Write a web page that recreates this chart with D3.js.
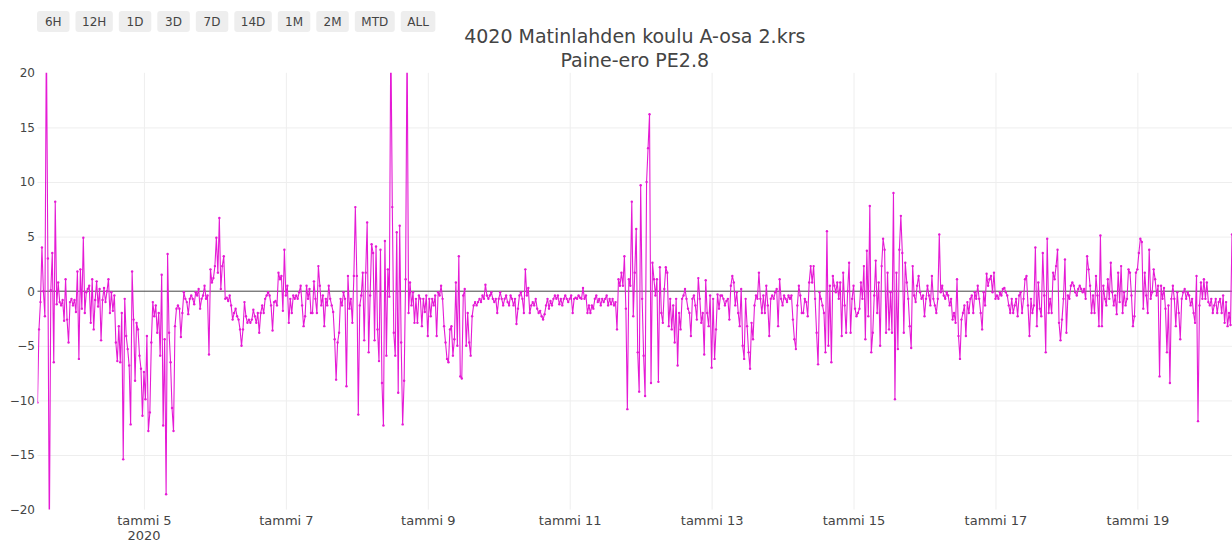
<!DOCTYPE html>
<html>
<head>
<meta charset="utf-8">
<script src="https://cdn.jsdelivr.net/npm/d3@7"></script>
<style>
  html, body { margin: 0; padding: 0; background: #fff; }
  svg { display: block; font-family: "DejaVu Sans", Verdana, sans-serif; }
</style>
</head>
<body>
<svg id="chart" width="1232" height="543"></svg>
<script>
// Pressure difference readings, 30-minute interval, starting 3.1.2020 12:00
const seriesStart = new Date(2020, 0, 3, 12, 0);
const stepMinutes = 30;

const pressureDiff = [
  // 3.1. 12:00–23:30
  -10.2, -3.5, -1.0, 4.0, 0.0, -2.3, 24, 3.0, -23, 0.1, 3.5, -6.5, 8.2, -1.2, 0.8, -1.0, -1.3, -0.8, -2.7, 1.1, -2.6, -4.7, -1.0, -0.7,
  // 4.1.
  -1.3, -0.8, -1.9, 1.8, -6.2, 2.0, -1.6, 4.9, -2.0, -0.1, 0.2, 0.5, -2.9, 1.1, -3.5, -0.8, 0.9, -1.4, 0.2, -4.5, -0.8, 0.3, -1.0, 0.0,
  1.1, -2.0, -0.1, -1.8, -0.4, -4.7, -6.4, -3.2, -6.5, -2.0, -15.4, -0.7, -4.1, -5.3, -6.8, -12.2, 1.8, -2.6, -8.2, -2.9, -3.5, -5.9, -7.1, -11.4,
  // 5.1.
  -7.4, -9.9, -4.1, -12.8, -11.1, -4.7, -1.0, -2.3, -1.3, -3.8, -2.0, -5.9, 1.5, -12.3, -4.4, -18.6, 3.4, -3.8, -6.5, -10.7, -12.8, -3.2, -1.6, -1.3,
  -1.6, -4.2, -2.0, -0.1, -0.7, -1.0, -2.1, -0.7, -0.4, -0.7, -1.2, -0.1, -0.4, 0.2, -1.6, -0.7, -0.4, 0.5, -0.7, -0.4, -5.8, 2.0, 0.8, 1.2,
  // 6.1.
  2.3, 4.9, 1.7, 6.7, 0.2, 2.3, 3.2, -0.7, -0.6, -0.9, -0.4, -1.3, -2.6, -2.0, -1.6, -2.3, -2.6, -3.5, -5.0, -3.5, -1.0, -2.3, -2.9, -2.6,
  -2.9, -2.6, -1.7, -2.3, -2.9, -2.0, -3.8, -2.0, -1.3, -2.0, -0.7, -0.4, -0.1, -0.4, -1.3, -3.6, -1.0, -0.9, -1.3, 1.7, 1.1, 1.4, -1.8, 3.8,
  // 7.1.
  -0.4, 0.5, -2.9, -0.7, -2.0, -0.4, -0.7, -0.4, -0.7, -0.1, 0.5, -1.3, -3.2, -2.3, 0.5, -0.7, 0.2, -2.0, -2.0, 0.9, -0.7, -2.0, 2.3, 0.5,
  -1.3, -0.4, -3.2, -0.7, -1.3, 0.5, -0.7, -1.3, -1.9, -4.4, -8.1, -4.7, -3.8, -0.7, -1.3, -0.1, -0.7, -8.7, 1.4, -1.6, -0.7, -2.9, 1.4, 7.7,
  // 8.1.
  1.4, -11.3, -1.3, -0.4, 1.7, -4.5, 1.7, 6.3, -5.6, -0.4, 4.3, 3.5, -4.5, 4.1, -3.5, -6.4, 3.8, -8.4, -12.3, 4.6, -5.9, 2.0, -0.5, 24,
  7.7, -3.8, -5.9, 5.4, -9.3, 6.0, -4.7, -12.2, -8.2, 1.1, 24, -2.0, 0.8, -1.3, -0.1, -2.9, -0.7, -2.9, -0.4, -0.7, -3.2, -0.7, -1.9, -0.4,
  // 9.1.
  -4.1, -0.7, -2.3, -0.7, -1.3, -0.4, -4.1, -0.1, -0.4, 0.5, -0.7, -3.2, -4.7, -6.2, -6.5, -3.5, -3.2, -5.9, -4.4, 0.8, -5.0, 3.2, -7.8, -8.0,
  -0.4, 0.2, -5.0, -2.0, -4.7, -5.9, -2.3, -1.3, -1.0, -1.3, -1.0, -0.7, -1.0, -0.4, -0.7, 0.6, -0.4, -0.7, -0.4, -0.1, -0.7, -1.0, -0.7, -2.0,
  // 10.1.
  -0.7, -0.1, -0.7, -1.3, -0.7, -0.4, -1.0, -1.3, -0.4, -0.7, -1.3, -0.7, -3.0, -1.6, -0.4, -0.1, -0.7, -2.0, 2.0, -0.4, 0.3, -2.0, -1.3, -1.0,
  -1.3, -0.7, -1.6, -2.0, -1.8, -2.3, -2.6, -2.1, -1.3, -0.7, -1.6, -0.9, -1.3, -0.7, -0.4, -0.7, -0.4, -1.2, -0.7, -1.3, -0.7, -0.4, -0.7, -1.0,
  // 11.1.
  -0.7, -0.4, -2.0, -0.7, -0.6, -0.7, -0.4, -0.6, -0.7, 0.3, -0.7, -0.4, -2.0, -1.3, -2.0, -1.3, -1.6, -0.7, -0.4, -1.0, -0.7, -1.3, -0.7, -1.0,
  -0.7, -0.4, -1.3, -0.7, -1.2, -0.7, -1.3, -1.0, -3.5, 1.1, 0.5, 1.7, 0.5, 3.2, -1.6, -10.8, 1.1, 0.5, 8.2, -2.3, 1.7, 5.7, -5.6, -9.2,
  // 12.1.
  9.7, -0.7, -5.9, -9.6, 10.0, 13.1, 16.2, -8.4, 2.6, 1.1, -0.4, 1.1, -8.3, 2.2, -2.0, -2.9, 0.2, 2.2, 1.7, -3.2, -0.7, -3.5, -1.3, -4.7,
  -0.7, -6.8, -2.0, -3.5, -0.7, -0.4, 0.2, -0.7, -1.6, -2.0, -4.1, -0.7, -0.4, -1.3, -2.6, 1.2, -0.7, -2.9, -2.0, -5.8, 1.0, -2.0, -3.2, -0.4,
  // 13.1.
  -7.0, -0.7, -6.2, -3.5, -0.3, -1.6, -0.4, -0.4, -0.7, -1.3, -0.9, -0.7, -2.6, 0.5, 1.4, 0.8, -1.3, -0.1, -2.0, -3.2, 0.2, -5.0, -6.2, -0.7,
  -3.2, -5.6, -7.1, -2.9, -4.4, -1.3, -0.4, -0.7, 1.7, -0.7, -2.0, -0.4, -2.0, 0.5, -1.3, -4.1, -0.7, -0.4, -0.7, -0.1, 0.2, -3.2, 1.1, -0.7,
  // 14.1.
  -1.3, -0.4, -0.7, -1.0, -0.4, -0.7, -0.4, -2.6, -4.4, -5.3, -1.3, 0.5, -0.4, -2.0, -2.0, -0.7, -1.0, -2.3, 0.8, 2.3, 0.8, 2.3, -0.7, -3.8,
  -6.7, -0.1, -0.7, -1.3, -2.0, -5.6, 5.5, -5.0, 0.5, -6.5, 1.4, 0.5, -0.1, 0.8, -0.7, 0.8, -4.1, 1.7, -1.3, -3.8, 0.0, 2.6, -3.8, -0.7,
  // 15.1.
  0.5, -1.6, -2.3, -2.0, -1.6, 0.8, -0.7, 2.3, -4.4, 3.7, -2.3, 7.8, -5.6, -3.8, -0.4, 2.8, -2.0, 0.8, -5.0, 2.3, 4.8, 3.8, -3.8, 1.7,
  -3.5, -0.1, -3.8, 9.0, -9.9, 1.7, -5.3, 3.8, 6.9, 3.5, -3.8, 2.6, 0.8, -0.7, -3.2, -5.2, 2.3, -0.4, -1.0, 0.5, 1.4, -0.1, -0.7, -0.4,
  // 16.1.
  -2.3, -0.7, 0.5, -0.4, -1.3, 1.4, -0.7, -1.3, -2.0, -0.7, 5.2, -0.1, 0.5, -0.4, -0.7, -0.1, -0.4, -1.3, -0.7, -2.6, -2.0, -2.9, 1.1, -4.1,
  -6.2, -2.6, -2.0, -1.3, -4.1, -1.0, -2.0, -0.7, -0.4, -2.0, -0.1, -0.7, 0.5, -0.7, -2.0, -3.5, -0.1, -1.3, 1.6, 0.5, 1.1, 1.4, -0.1, 1.7,
  // 17.1.
  -0.7, -0.4, -0.7, -0.1, -0.4, 0.2, 0.3, -0.1, -0.4, -1.3, -2.0, -0.7, -2.0, -1.3, -0.7, -2.3, -0.4, -0.1, -2.0, -0.7, 1.1, 1.4, -1.3, -4.1,
  -0.7, -2.0, -1.3, 4.0, -3.2, 0.8, -1.6, -2.3, 3.5, -0.4, -5.6, 4.8, -2.0, -0.7, -2.0, 1.7, 1.1, 2.3, 3.8, -2.9, -4.5, -2.6, -0.7, 2.9,
  // 18.1.
  -3.8, -0.4, -0.7, 0.5, 0.8, 0.5, -0.1, -0.4, 0.2, 0.5, 0.2, -0.1, 0.2, -0.7, 3.2, 2.0, 0.5, -2.0, -0.4, -2.0, 1.4, -0.4, -3.2, 5.1,
  -3.2, 0.5, -0.7, -1.3, 1.1, -0.7, 2.6, -0.1, -1.3, -0.4, -2.1, 1.7, -1.0, 2.3, -2.0, -0.1, -1.3, -0.7, 2.0, 1.7, -0.4, -3.2, -2.3, 1.7,
  // 19.1.
  2.0, 3.5, 4.8, 4.5, -1.6, 1.7, -0.4, -2.0, 3.8, -0.7, -0.1, 2.0, 1.1, -0.4, 0.5, -7.8, 0.5, -0.7, 0.3, -1.6, -5.6, -1.3, -8.4, -0.7,
  0.5, -0.7, -3.2, -0.1, -2.0, -4.4, -0.7, -0.1, 0.2, -0.7, -0.1, -0.4, -1.3, -0.7, -2.0, -2.9, 1.4, -11.9, -1.3, 0.8, -0.7, 1.1, -0.7, 0.8,
  // 20.1. 00:00–08:00
  -1.0, -1.3, -0.7, -2.0, -1.3, -0.7, -2.0, -1.0, -0.7, -2.0, -0.4, -2.9, -1.0, -3.2, -2.0, -3.1, 5.2
];

const xTickDates = [5, 7, 9, 11, 13, 15, 17, 19].map(d => new Date(2020, 0, d));
const xTickLabels = ["tammi 5", "tammi 7", "tammi 9", "tammi 11", "tammi 13", "tammi 15", "tammi 17", "tammi 19"];
const yearLabel = "2020";
const yTicks = [-20, -15, -10, -5, 0, 5, 10, 15, 20];
const yRange = [-20, 20];
const rangeButtons = ["6H", "12H", "1D", "3D", "7D", "14D", "1M", "2M", "MTD", "ALL"];
const titleLines = ["4020 Matinlahden koulu A-osa 2.krs", "Paine-ero PE2.8"];

// ---- layout ----
const FONT = '"DejaVu Sans", Verdana, sans-serif';
const plot = { left: 37.5, right: 1232, top: 72.8, bottom: 509.6 };
const textColor = "#444";
const lineColor = "#e51bd5";

const data = pressureDiff.map((v, i) => ({
  t: new Date(seriesStart.getTime() + i * stepMinutes * 60000),
  v
}));

const x = d3.scaleTime()
  .domain([data[0].t, data[data.length - 1].t])
  .range([plot.left, plot.right]);
const y = d3.scaleLinear().domain(yRange).range([plot.bottom, plot.top]);

const svg = d3.select("#chart");

svg.append("defs").append("clipPath").attr("id", "plot-clip")
  .append("rect")
  .attr("x", plot.left).attr("y", plot.top)
  .attr("width", plot.right - plot.left).attr("height", plot.bottom - plot.top);

// vertical grid
const xGrid = svg.append("g")
  .attr("transform", `translate(0,${plot.bottom})`)
  .call(d3.axisBottom(x).tickValues(xTickDates).tickSize(-(plot.bottom - plot.top)).tickFormat(""));
xGrid.select(".domain").remove();
xGrid.selectAll("line").attr("stroke", "#eee").attr("stroke-width", 1);

// horizontal grid (interior ticks only)
const yGrid = svg.append("g")
  .attr("transform", `translate(${plot.left},0)`)
  .call(d3.axisLeft(y).tickValues(yTicks.filter(d => d !== 0 && d !== yRange[0] && d !== yRange[1]))
    .tickSize(-(plot.right - plot.left)).tickFormat(""));
yGrid.select(".domain").remove();
yGrid.selectAll("line").attr("stroke", "#eee").attr("stroke-width", 1);

// zero line
svg.append("line")
  .attr("x1", plot.left).attr("x2", plot.right)
  .attr("y1", y(0)).attr("y2", y(0))
  .attr("stroke", textColor).attr("stroke-width", 1);

// series
const series = svg.append("g").attr("clip-path", "url(#plot-clip)");
series.append("path")
  .datum(data)
  .attr("fill", "none")
  .attr("stroke", lineColor)
  .attr("stroke-width", 1.1)
  .attr("stroke-linejoin", "round")
  .attr("d", d3.line().x(d => x(d.t)).y(d => y(d.v)));
series.selectAll("circle")
  .data(data)
  .join("circle")
  .attr("cx", d => x(d.t))
  .attr("cy", d => y(d.v))
  .attr("r", 1.2)
  .attr("fill", lineColor);

// y axis labels
const yAxis = svg.append("g")
  .attr("transform", `translate(${plot.left - 2.5},0)`)
  .call(d3.axisLeft(y).tickValues(yTicks).tickSize(0).tickPadding(0)
    .tickFormat(d => d < 0 ? "\u2212" + Math.abs(d) : String(d)));
yAxis.select(".domain").remove();
yAxis.selectAll("text")
  .attr("fill", textColor)
  .style("font-size", "12px")
  .style("font-family", FONT);

// x axis labels
const xAxis = svg.append("g")
  .attr("transform", `translate(0,${plot.bottom})`)
  .call(d3.axisBottom(x).tickValues(xTickDates).tickSize(0).tickPadding(6)
    .tickFormat((d, i) => xTickLabels[i]));
xAxis.select(".domain").remove();
xAxis.selectAll("text")
  .attr("fill", textColor)
  .style("font-size", "13px")
  .style("font-family", FONT);
svg.append("text")
  .attr("x", x(xTickDates[0]))
  .attr("y", 539.8)
  .attr("text-anchor", "middle")
  .attr("fill", textColor)
  .style("font-size", "13px")
  .text(yearLabel);

// title
svg.append("g").selectAll("text")
  .data(titleLines)
  .join("text")
  .attr("x", (plot.left + plot.right) / 2)
  .attr("y", (d, i) => 43 + i * 24)
  .attr("text-anchor", "middle")
  .attr("fill", textColor)
  .style("font-size", "19px")
  .text(d => d);

// range selector buttons
const btnG = svg.append("g");
let bx = 37;
rangeButtons.forEach(label => {
  const g = btnG.append("g");
  const txt = g.append("text")
    .attr("y", 25.5)
    .attr("text-anchor", "middle")
    .attr("fill", textColor)
    .style("font-size", "12px")
    .text(label);
  const tw = txt.node().getComputedTextLength();
  const bw = Math.max(tw + 13, 32.5);
  g.insert("rect", "text")
    .attr("x", bx).attr("y", 11)
    .attr("width", bw).attr("height", 21)
    .attr("rx", 3).attr("ry", 3)
    .attr("fill", "#eee");
  txt.attr("x", bx + bw / 2);
  bx += bw + 6;
});
</script>
</body>
</html>
